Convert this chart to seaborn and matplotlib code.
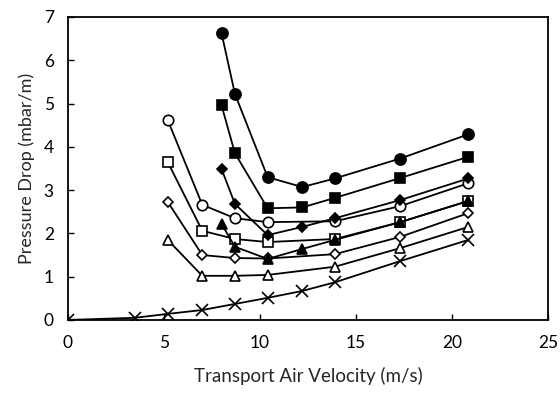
import matplotlib
matplotlib.use("Agg")
import pandas as pd
import matplotlib.pyplot as plt
import seaborn as sns

# velocities (m/s)
v_empty = [0, 3.5, 5.2, 7.0, 8.7, 10.4, 12.2, 13.9, 17.3, 20.85]
v_open = [5.2, 7.0, 8.7, 10.4, 13.9, 17.3, 20.85]
v_filled = [8.0, 8.7, 10.4, 12.2, 13.9, 17.3, 20.85]

# pressure drop (mbar/m)
cross = [0, 0.05, 0.14, 0.23, 0.37, 0.51, 0.67, 0.87, 1.36, 1.85]
tri_open = [1.85, 1.02, 1.02, 1.04, 1.23, 1.66, 2.15]
dia_open = [2.73, 1.5, 1.43, 1.42, 1.52, 1.92, 2.47]
sq_open = [3.65, 2.06, 1.87, 1.8, 1.87, 2.26, 2.75]
circ_open = [4.62, 2.66, 2.35, 2.26, 2.28, 2.63, 3.16]
tri_filled = [2.22, 1.69, 1.41, 1.64, 1.85, 2.26, 2.75]
dia_filled = [3.49, 2.68, 1.96, 2.15, 2.35, 2.77, 3.27]
sq_filled = [4.96, 3.85, 2.58, 2.6, 2.82, 3.28, 3.77]
circ_filled = [6.63, 5.22, 3.3, 3.07, 3.27, 3.73, 4.29]

series = [
    (v_empty, cross, 'x', 'black', 8),
    (v_open, tri_open, '^', 'white', 7.5),
    (v_open, dia_open, 'D', 'white', 5.5),
    (v_open, sq_open, 's', 'white', 7),
    (v_open, circ_open, 'o', 'white', 7.5),
    (v_filled, tri_filled, '^', 'black', 7.5),
    (v_filled, dia_filled, 'D', 'black', 5),
    (v_filled, sq_filled, 's', 'black', 7),
    (v_filled, circ_filled, 'o', 'black', 8),
]

sns.set_theme(style="ticks")
plt.rcParams['font.family'] = ['Lato', 'DejaVu Sans']

fig = plt.figure(figsize=(5.6, 3.95), dpi=100)
ax = fig.add_axes([0.121, 0.19, 0.858, 0.767])

for x, y, m, fc, ms in series:
    df = pd.DataFrame({'v': x, 'dp': y})
    sns.lineplot(data=df, x='v', y='dp', ax=ax, color='black', linewidth=1.3,
                 marker=m, markersize=ms, markerfacecolor=fc,
                 markeredgecolor='black', markeredgewidth=1.2)

ax.set_xlim(0, 25)
ax.set_ylim(0, 7)
ax.set_xticks(range(0, 26, 5))
ax.set_yticks(range(0, 8))
ax.tick_params(direction='in', length=4, width=1, colors='black',
               labelsize=12.5, pad=11)
ax.tick_params(axis='y', pad=10)
for s in ax.spines.values():
    s.set_visible(True)
    s.set_color('black')
    s.set_linewidth(1.3)
ax.set_xlabel('Transport Air Velocity (m/s)', fontsize=13.5, labelpad=11)
ax.set_ylabel('Pressure Drop (mbar/m)', fontsize=13, labelpad=6)

fig.savefig('out.png', dpi=100)
